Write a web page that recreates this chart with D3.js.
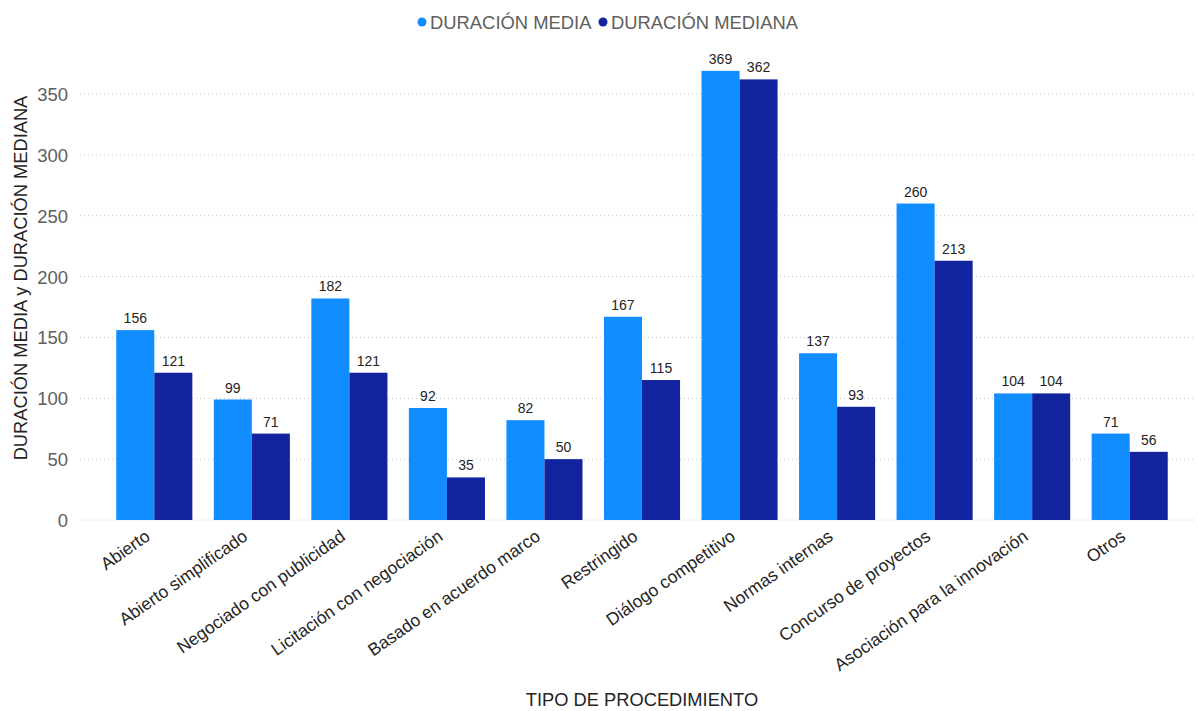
<!DOCTYPE html>
<html><head><meta charset="utf-8">
<script src="https://cdn.jsdelivr.net/npm/d3@7"></script>
<style>body{margin:0;background:#fff;} svg{display:block;}</style>
</head><body>
<svg id="c" width="1198" height="711"></svg>
<script>
const categories = ["Abierto","Abierto simplificado","Negociado con publicidad","Licitación con negociación","Basado en acuerdo marco","Restringido","Diálogo competitivo","Normas internas","Concurso de proyectos","Asociación para la innovación","Otros"];
const media = [156,99,182,92,82,167,369,137,260,104,71];
const mediana = [121,71,121,35,50,115,362,93,213,104,56];
const seriesNames = ["DURACIÓN MEDIA","DURACIÓN MEDIANA"];
const yTicks = [0,50,100,150,200,250,300,350];
const colors = ["#118DFF","#12239E"];

const svg = d3.select("#c");
const font = "'Liberation Sans', Arial, sans-serif";
const x = d3.scaleBand().domain(categories).range([87,1197]).paddingInner(0.22).paddingOuter(0.3);
const x1 = d3.scaleBand().domain(seriesNames).range([0,x.bandwidth()]);
const y = d3.scaleLinear().domain([0,350]).range([520,94]);

// gridlines
svg.append("g").selectAll("line").data(yTicks).join("line")
  .attr("x1",80).attr("x2",1195).attr("y1",d=>y(d)).attr("y2",d=>y(d))
  .attr("stroke","#c8c8c8").attr("stroke-width",1).attr("stroke-dasharray","1,3");

// y axis labels
const yAxis = svg.append("g").attr("transform","translate(72,0)")
  .call(d3.axisLeft(y).tickValues(yTicks).tickSize(0).tickPadding(4));
yAxis.select(".domain").remove();
yAxis.selectAll("text").attr("font-family",font).attr("font-size",18.5).attr("fill","#605E5C").attr("dy","0.35em");

// bars
const data = categories.map((c,i)=>({c, vals:[{s:seriesNames[0],v:media[i],k:0},{s:seriesNames[1],v:mediana[i],k:1}]}));
const g = svg.append("g").selectAll("g").data(data).join("g").attr("transform",d=>`translate(${x(d.c)},0)`);
g.selectAll("rect").data(d=>d.vals).join("rect")
  .attr("x",d=>x1(d.s)).attr("width",x1.bandwidth())
  .attr("y",d=>y(d.v)).attr("height",d=>y(0)-y(d.v))
  .attr("fill",d=>colors[d.k]);
g.selectAll("text").data(d=>d.vals).join("text")
  .attr("x",d=>x1(d.s)+x1.bandwidth()/2).attr("y",d=>y(d.v)-7)
  .attr("text-anchor","middle").attr("font-family",font).attr("font-size",14).attr("fill","#252423")
  .text(d=>d.v);

// x labels
const xAxis = svg.append("g").attr("transform","translate(0,520)")
  .call(d3.axisBottom(x).tickSize(0).tickPadding(0));
xAxis.select(".domain").remove();
xAxis.selectAll("text").attr("font-family",font).attr("font-size",17.5).attr("fill","#252423")
  .attr("text-anchor","end").attr("dy",0)
  .attr("transform","translate(-3,19) rotate(-35)");

// axis titles
svg.append("text").attr("x",642).attr("y",706).attr("text-anchor","middle")
  .attr("font-family",font).attr("font-size",18.3).attr("fill","#252423").text("TIPO DE PROCEDIMIENTO");
svg.append("text").attr("transform","translate(27,278) rotate(-90)").attr("text-anchor","middle")
  .attr("font-family",font).attr("font-size",18.3).attr("fill","#252423").text("DURACIÓN MEDIA y DURACIÓN MEDIANA");

// legend
const lg = svg.append("g");
const lx = [422,603];
seriesNames.forEach((s,i)=>{
  lg.append("circle").attr("cx",lx[i]).attr("cy",22).attr("r",4.5).attr("fill",colors[i]);
  lg.append("text").attr("x",lx[i]+8).attr("y",29).attr("font-family",font).attr("font-size",18.4)
    .attr("fill","#605E5C").text(s);
});
</script>
</body></html>
